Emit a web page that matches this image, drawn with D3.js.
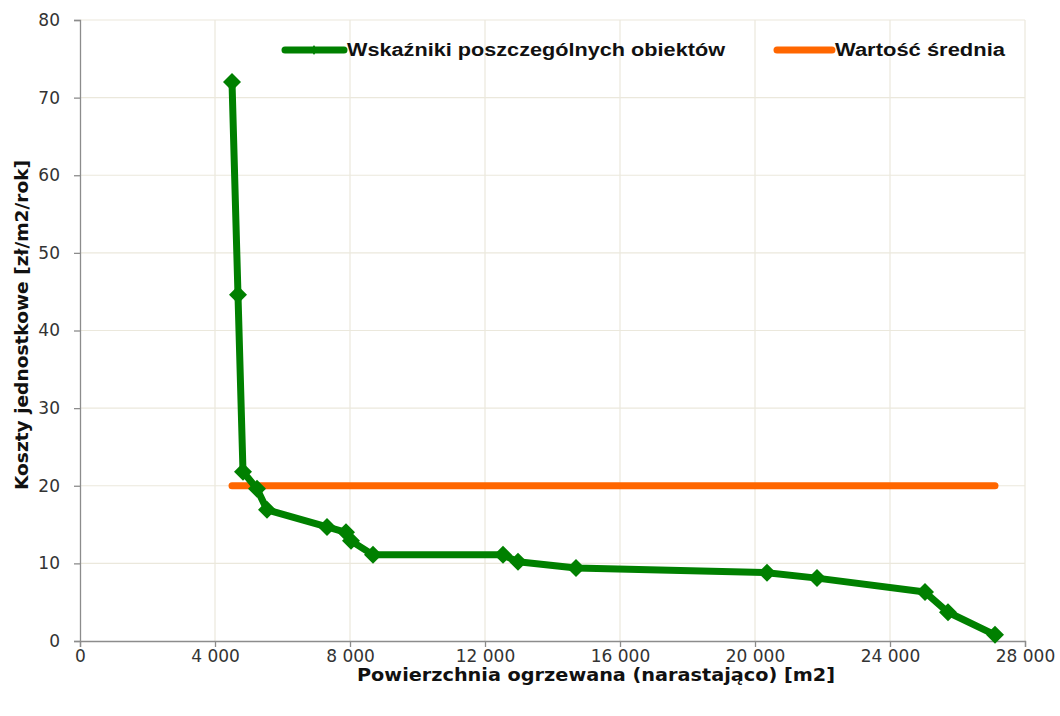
<!DOCTYPE html>
<html>
<head>
<meta charset="utf-8">
<script src="https://cdn.jsdelivr.net/npm/d3@7"></script>
<style>
  html, body { margin: 0; padding: 0; background: #fff; }
  svg { display: block; }
</style>
</head>
<body>
<svg id="chart" width="1060" height="716"></svg>
<script>
// ---- data ----
const areaCumulative = [4504, 4681, 4830, 5244, 5541, 7319, 7882, 8030, 8681, 12533, 12978, 14696, 20356, 21837, 25037, 25719, 27111];
const unitCosts      = [72.0, 44.6, 21.8, 19.6, 16.9, 14.7, 14.0, 12.9, 11.1, 11.1, 10.2, 9.4, 8.8, 8.1, 6.3, 3.7, 0.8];
const meanValue = 20.0;
const xTicks = [0, 4000, 8000, 12000, 16000, 20000, 24000, 28000];
const yTicks = [0, 10, 20, 30, 40, 50, 60, 70, 80];
const seriesNames = ["Wskaźniki poszczególnych obiektów", "Wartość średnia"];
const xTitle = "Powierzchnia ogrzewana (narastająco) [m2]";
const yTitle = "Koszty jednostkowe [zł/m2/rok]";

// ---- layout ----
const svg = d3.select("#chart");
const L = 80, R = 1025, T = 20, B = 641;
const green = "#008000", orange = "#ff6600", grid = "#ebe8dc", axisCol = "#8c8c8c";

const x = d3.scaleLinear().domain([0, 28000]).range([L, R]);
const y = d3.scaleLinear().domain([0, 80]).range([B, T]);

// gridlines
svg.append("g").selectAll("line").data(xTicks.slice(1)).join("line")
  .attr("x1", d => x(d)).attr("x2", d => x(d)).attr("y1", T).attr("y2", B)
  .attr("stroke", grid).attr("stroke-width", 1.2);
svg.append("g").selectAll("line").data(yTicks.slice(1)).join("line")
  .attr("x1", L).attr("x2", R).attr("y1", d => y(d)).attr("y2", d => y(d))
  .attr("stroke", grid).attr("stroke-width", 1.2);

const fmt = d => d === 0 ? "0" : d3.format(",")(d).replace(/,/g, " ");

// axes
const xAxis = svg.append("g").attr("transform", `translate(0,${B})`)
  .call(d3.axisBottom(x).tickValues(xTicks).tickSizeOuter(0).tickSize(6).tickPadding(3).tickFormat(fmt));
const yAxis = svg.append("g").attr("transform", `translate(${L},0)`)
  .call(d3.axisLeft(y).tickValues(yTicks).tickSizeOuter(0).tickSize(6).tickPadding(14));
[xAxis, yAxis].forEach(a => {
  a.select(".domain").attr("stroke", axisCol).attr("stroke-width", 1.3);
  a.selectAll(".tick line").attr("stroke", axisCol).attr("stroke-width", 1.3);
  a.selectAll(".tick text").attr("fill", "#333").style("font-family", "'DejaVu Sans', Verdana, sans-serif").style("font-size", "17px");
});

// mean line
svg.append("line")
  .attr("x1", x(areaCumulative[0])).attr("x2", x(areaCumulative[areaCumulative.length - 1]))
  .attr("y1", y(meanValue)).attr("y2", y(meanValue))
  .attr("stroke", orange).attr("stroke-width", 7).attr("stroke-linecap", "round");

// series line
const pts = areaCumulative.map((a, i) => [a, unitCosts[i]]);
svg.append("path").datum(pts)
  .attr("d", d3.line().x(d => x(d[0])).y(d => y(d[1])))
  .attr("fill", "none").attr("stroke", green).attr("stroke-width", 7).attr("stroke-linejoin", "round");

// diamond markers
svg.append("g").selectAll("path").data(pts).join("path")
  .attr("transform", d => `translate(${x(d[0])},${y(d[1])})`)
  .attr("d", "M0,-9L9,0L0,9L-9,0Z")
  .attr("fill", green);

// legend
const lg = svg.append("g");
lg.append("line").attr("x1", 285).attr("x2", 344).attr("y1", 50).attr("y2", 50)
  .attr("stroke", green).attr("stroke-width", 7).attr("stroke-linecap", "round");
lg.append("path").attr("d", "M314,45L317,50L314,55L311,50Z").attr("fill", green);
lg.append("text").attr("x", 347).attr("y", 56).text(seriesNames[0])
  .attr("textLength", 378).attr("lengthAdjust", "spacingAndGlyphs")
  .style("font-family", "'Liberation Sans', Arial, sans-serif").style("font-weight", "bold").style("font-size", "18px").attr("fill", "#111");
lg.append("line").attr("x1", 777).attr("x2", 832).attr("y1", 50).attr("y2", 50)
  .attr("stroke", orange).attr("stroke-width", 7).attr("stroke-linecap", "round");
lg.append("text").attr("x", 835).attr("y", 56).text(seriesNames[1])
  .attr("textLength", 170).attr("lengthAdjust", "spacingAndGlyphs")
  .style("font-family", "'Liberation Sans', Arial, sans-serif").style("font-weight", "bold").style("font-size", "18px").attr("fill", "#111");

// axis titles
svg.append("text").attr("x", 596).attr("y", 681).attr("text-anchor", "middle").text(xTitle)
  .attr("textLength", 478).attr("lengthAdjust", "spacingAndGlyphs")
  .style("font-family", "'DejaVu Sans', Tahoma, sans-serif").style("font-weight", "bold").style("font-size", "18px").attr("fill", "#111");
svg.append("text").attr("transform", "translate(28,325) rotate(-90)").attr("text-anchor", "middle").text(yTitle)
  .attr("textLength", 330).attr("lengthAdjust", "spacingAndGlyphs")
  .style("font-family", "'DejaVu Sans', Tahoma, sans-serif").style("font-weight", "bold").style("font-size", "18px").attr("fill", "#111");
</script>
</body>
</html>
